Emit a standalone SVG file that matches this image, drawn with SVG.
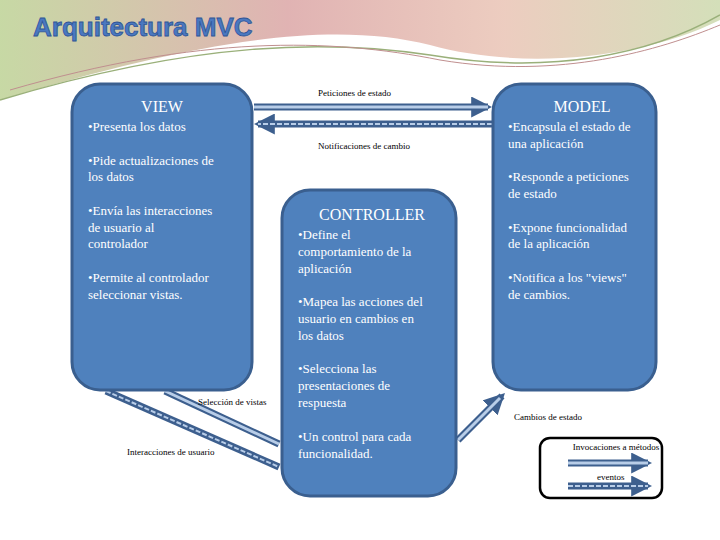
<svg xmlns="http://www.w3.org/2000/svg" width="720" height="540" viewBox="0 0 720 540">
<defs>
<linearGradient id="sw" x1="0" y1="0" x2="1" y2="0"><stop offset="0" stop-color="#b9cf8e"/><stop offset="0.4" stop-color="#d9a0a0"/><stop offset="0.7" stop-color="#e8c0b0"/><stop offset="1" stop-color="#c9d7a8"/></linearGradient>
<marker id="ah" viewBox="0 0 10 10" refX="8" refY="5" markerWidth="3" markerHeight="3" orient="auto"><path d="M0,0 L10,5 L0,10 Z" fill="#3d5f8e"/></marker>
</defs>
<style>
.box{fill:#4f81bd;stroke:#3a5f8f;stroke-width:3}
.t{font-family:"Liberation Serif",serif;fill:#fff;font-size:13px}
.h{font-family:"Liberation Serif",serif;fill:#fff;font-size:16px}
.l{font-family:"Liberation Serif",serif;fill:#000;font-size:9px}
.so{stroke:#3d5f8e;stroke-width:7;fill:none}
.si{stroke:#b8cde8;stroke-width:3;fill:none}
.da{stroke:#3d5f8e;stroke-width:7;fill:none}
.di{stroke:#b8cde8;stroke-width:2;fill:none;stroke-dasharray:5 2}
</style>
<rect width="720" height="540" fill="#fff"/>
<path d="M0,0 H720 V20 C640,60 520,70 430,45 C330,20 200,40 0,100 Z" fill="url(#sw)" opacity="0.8"/>
<path d="M0,100 C200,40 330,40 430,55 C550,75 650,55 720,15" fill="none" stroke="#9ab07a" stroke-width="1.5"/>
<path d="M10,90 C200,35 330,38 440,60 C560,80 660,50 720,25" fill="none" stroke="#c08f8f" stroke-width="1"/>
<text x="33" y="36" font-family="Liberation Sans,sans-serif" font-weight="bold" font-size="26" fill="#4a78c0" stroke="#2f5597" stroke-width="0.8">Arquitectura MVC</text>
<g id="connectors">
<line x1="254" y1="107" x2="488" y2="107" class="so" marker-end="url(#ah)"/><line x1="254" y1="107" x2="488" y2="107" class="si"/>
<line x1="492" y1="124" x2="258" y2="124" class="da" marker-end="url(#ah)"/><line x1="492" y1="124" x2="258" y2="124" class="di"/>
<line x1="458" y1="440" x2="502" y2="396" class="so" marker-end="url(#ah)"/><line x1="458" y1="440" x2="500" y2="398" class="si"/>
<line x1="165" y1="391" x2="279" y2="444" class="so"/><line x1="165" y1="391" x2="279" y2="444" class="si" stroke-width="1.5"/>
<line x1="106" y1="391" x2="279" y2="467" class="da"/><line x1="106" y1="391" x2="279" y2="467" class="di" stroke-width="1.2"/>
<text x="318" y="96" class="l">Peticiones de estado</text>
<text x="318" y="149" class="l">Notificaciones de cambio</text>
<text x="198" y="405" class="l">Selección de vistas</text>
<text x="127" y="455" class="l">Interacciones de usuario</text>
<text x="514" y="420" class="l">Cambios de estado</text>
</g>
<g id="view"><rect x="72" y="84" width="180" height="306" rx="28" class="box"/>
<text x="162" y="112" text-anchor="middle" class="h">VIEW</text>
<text class="t"><tspan x="88" y="131">•Presenta los datos</tspan><tspan x="88" y="165">•Pide actualizaciones de</tspan><tspan x="88" y="181">los datos</tspan><tspan x="88" y="215">•Envía las interacciones</tspan><tspan x="88" y="232">de usuario al</tspan><tspan x="88" y="248">controlador</tspan><tspan x="88" y="282">•Permite al controlador</tspan><tspan x="88" y="299">seleccionar vistas.</tspan></text></g>
<g id="model"><rect x="493" y="84" width="163" height="306" rx="28" class="box"/>
<text x="582" y="112" text-anchor="middle" class="h">MODEL</text>
<text class="t"><tspan x="508" y="131">•Encapsula el estado de</tspan><tspan x="508" y="148">una aplicación</tspan><tspan x="508" y="181">•Responde a peticiones</tspan><tspan x="508" y="198">de estado</tspan><tspan x="508" y="232">•Expone funcionalidad</tspan><tspan x="508" y="248">de la aplicación</tspan><tspan x="508" y="282">•Notifica a los "views"</tspan><tspan x="508" y="299">de cambios.</tspan></text></g>
<g id="controller"><rect x="282" y="190" width="174" height="306" rx="28" class="box"/>
<text x="372" y="220" text-anchor="middle" class="h">CONTROLLER</text>
<text class="t"><tspan x="298" y="239">•Define el</tspan><tspan x="298" y="256">comportamiento de la</tspan><tspan x="298" y="273">aplicación</tspan><tspan x="298" y="306">•Mapea las acciones del</tspan><tspan x="298" y="323">usuario en cambios en</tspan><tspan x="298" y="340">los datos</tspan><tspan x="298" y="373">•Selecciona las</tspan><tspan x="298" y="390">presentaciones de</tspan><tspan x="298" y="407">respuesta</tspan><tspan x="298" y="441">•Un control para cada</tspan><tspan x="298" y="458">funcionalidad.</tspan></text></g>
<g id="legend"><rect x="540" y="438" width="122" height="60" rx="10" fill="#fff" stroke="#000" stroke-width="2.5"/>
<text x="616" y="450" text-anchor="middle" class="l">Invocaciones a métodos</text>
<line x1="568" y1="463" x2="648" y2="463" class="so" marker-end="url(#ah)"/><line x1="568" y1="463" x2="648" y2="463" class="si"/>
<text x="597" y="480" class="l">eventos</text>
<line x1="568" y1="486" x2="648" y2="486" class="da" marker-end="url(#ah)"/><line x1="568" y1="486" x2="648" y2="486" class="di"/></g>
</svg>
